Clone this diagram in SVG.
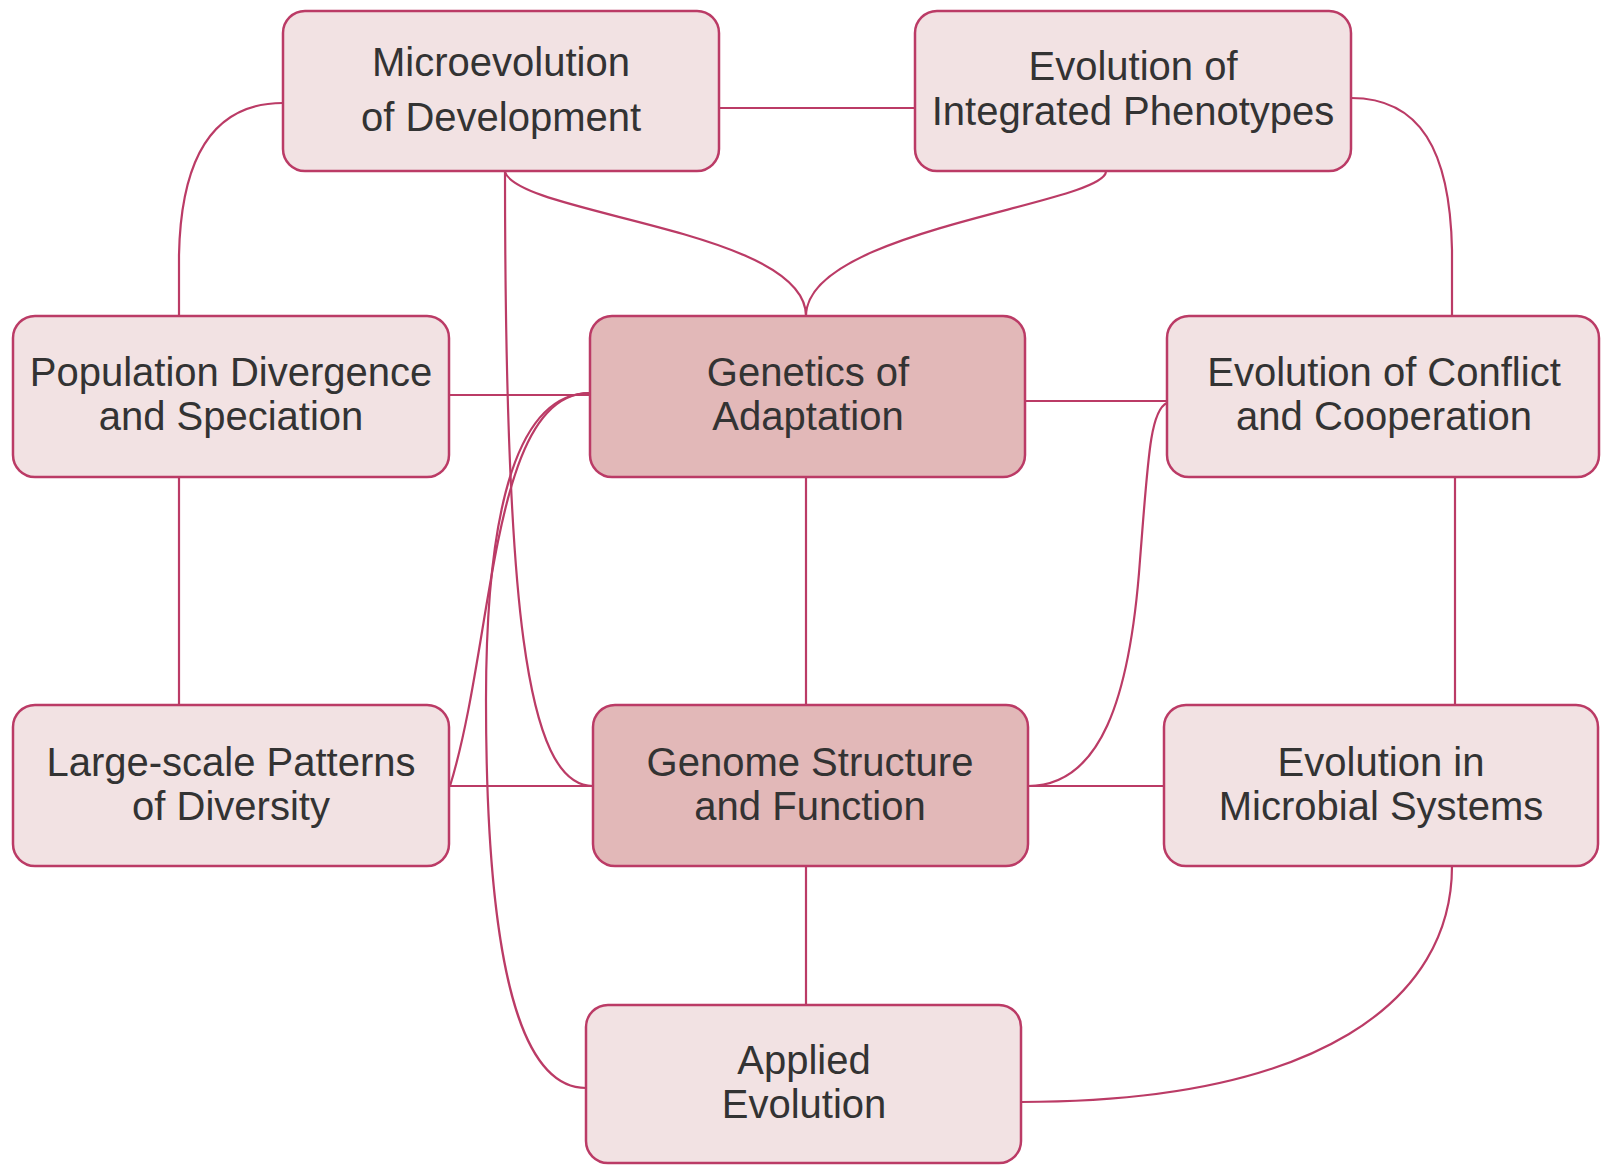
<svg xmlns="http://www.w3.org/2000/svg" width="1601" height="1165" viewBox="0 0 1601 1165">
  <style>
    .node rect { fill: #f2e2e3; stroke: #bb3b66; stroke-width: 2.5; }
    .node.core rect { fill: #e2b8b8; }
    .node text { font-family: "Liberation Sans", Arial, sans-serif; font-size: 40px; fill: #333333; text-anchor: middle; }
    #connectors path { fill: none; stroke: #bb3b66; stroke-width: 2.2; }
  </style>
  <rect width="1601" height="1165" fill="#ffffff"/>

  <!-- links between topics -->
  <g id="connectors">
    <path d="M719,108 L915,108"/>
    <path d="M283,103 C215,103 181,155 179,255 L179,316"/>
    <path d="M1351,98 C1420,98 1450,150 1452,250 L1452,316"/>
    <path d="M505,172 C520,215 806,230 806,316"/>
    <path d="M1106,172 C1100,205 806,230 806,316"/>
    <path d="M505,172 C505,600 525,786 593,786"/>
    <path d="M449,395 L590,395"/>
    <path d="M590,393 C490,393 495,640 450,786"/>
    <path d="M590,393 C520,393 486,500 486,700 C486,1000 530,1088 586,1088"/>
    <path d="M806,477 L806,705"/>
    <path d="M1025,401 L1167,401"/>
    <path d="M1167,403 C1150,410 1148,460 1140,560 C1130,700 1100,786 1028,786"/>
    <path d="M1455,477 L1455,705"/>
    <path d="M179,477 L179,705"/>
    <path d="M449,786 L593,786"/>
    <path d="M1028,786 L1164,786"/>
    <path d="M806,866 L806,1005"/>
    <path d="M1452,866 C1452,1000 1320,1102 1021,1102"/>
  </g>

  <g id="microevolution" class="node">
    <rect x="283" y="11" width="436" height="160" rx="22"/>
    <text x="501" y="76">Microevolution</text>
    <text x="501" y="131">of Development</text>
  </g>
  <g id="integrated-phenotypes" class="node">
    <rect x="915" y="11" width="436" height="160" rx="22"/>
    <text x="1133" y="80">Evolution of</text>
    <text x="1133" y="125">Integrated Phenotypes</text>
  </g>
  <g id="population-divergence" class="node">
    <rect x="13" y="316" width="436" height="161" rx="22"/>
    <text x="231" y="386">Population Divergence</text>
    <text x="231" y="430">and Speciation</text>
  </g>
  <g id="genetics-adaptation" class="node core">
    <rect x="590" y="316" width="435" height="161" rx="22"/>
    <text x="808" y="386">Genetics of</text>
    <text x="808" y="430">Adaptation</text>
  </g>
  <g id="conflict-cooperation" class="node">
    <rect x="1167" y="316" width="432" height="161" rx="22"/>
    <text x="1384" y="386">Evolution of Conflict</text>
    <text x="1384" y="430">and Cooperation</text>
  </g>
  <g id="large-scale-patterns" class="node">
    <rect x="13" y="705" width="436" height="161" rx="22"/>
    <text x="231" y="776">Large-scale Patterns</text>
    <text x="231" y="820">of Diversity</text>
  </g>
  <g id="genome-structure" class="node core">
    <rect x="593" y="705" width="435" height="161" rx="22"/>
    <text x="810" y="776">Genome Structure</text>
    <text x="810" y="820">and Function</text>
  </g>
  <g id="microbial-systems" class="node">
    <rect x="1164" y="705" width="434" height="161" rx="22"/>
    <text x="1381" y="776">Evolution in</text>
    <text x="1381" y="820">Microbial Systems</text>
  </g>
  <g id="applied-evolution" class="node">
    <rect x="586" y="1005" width="435" height="158" rx="22"/>
    <text x="804" y="1074">Applied</text>
    <text x="804" y="1118">Evolution</text>
  </g>
</svg>
